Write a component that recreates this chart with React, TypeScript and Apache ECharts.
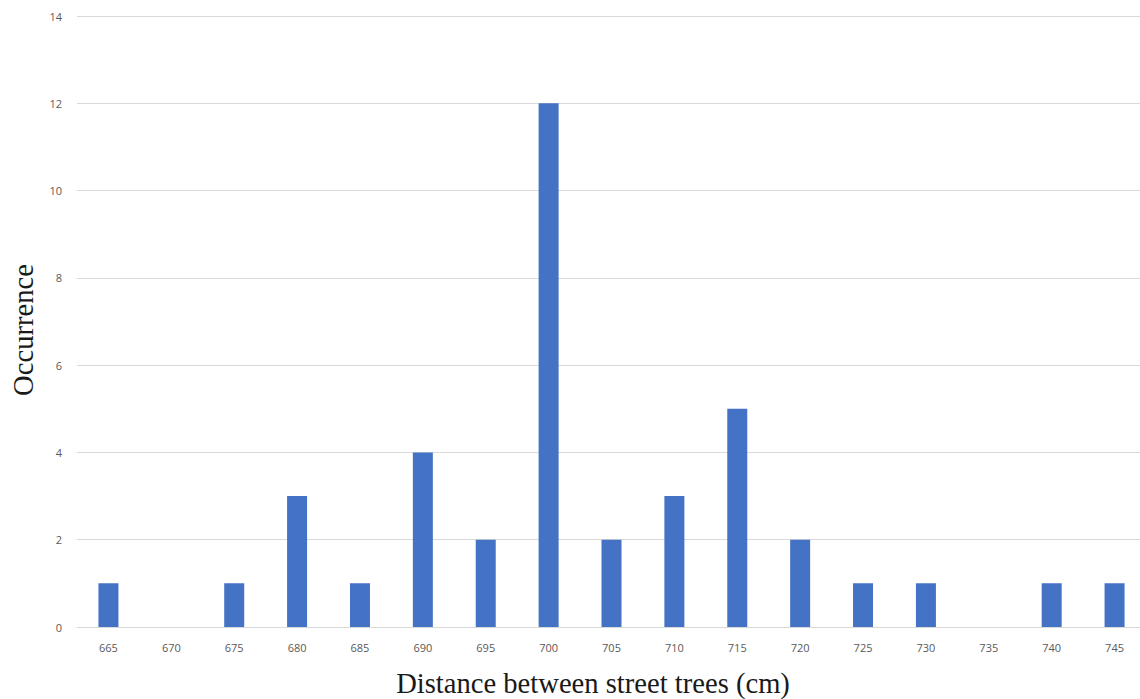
import React, { useEffect, useRef } from "react";
import * as echarts from "echarts";

const categories = ["665","670","675","680","685","690","695","700","705","710","715","720","725","730","735","740","745"];
const occurrences = [1, 0, 1, 3, 1, 4, 2, 12, 2, 3, 5, 2, 1, 1, 0, 1, 1];
const yTicks = { min: 0, max: 14, interval: 2 };
const xTitle = "Distance between street trees (cm)";
const yTitle = "Occurrence";

export default function App() {
  const ref = useRef<HTMLDivElement>(null);
  useEffect(() => {
    if (!ref.current) return;
    const chart = echarts.init(ref.current, null, { renderer: "svg" });
    chart.setOption({
      animation: false,
      backgroundColor: "#ffffff",
      grid: { left: 77, right: 0, top: 16, bottom: 72 },
      xAxis: {
        type: "category",
        data: categories,
        axisLine: { show: true, lineStyle: { color: "#d9d9d9", width: 1 } },
        axisTick: { show: false },
        axisLabel: { color: "#595959", fontSize: 11, margin: 15, fontFamily: "Open Sans" },
      },
      yAxis: {
        type: "value",
        min: yTicks.min,
        max: yTicks.max,
        interval: yTicks.interval,
        axisLine: { show: false },
        axisTick: { show: false },
        axisLabel: { color: "#595959", fontSize: 11, margin: 15, fontFamily: "Open Sans" },
        splitLine: { lineStyle: { color: "#d9d9d9", width: 1 } },
      },
      series: [
        {
          type: "bar",
          data: occurrences.map((v) => (v === 0 ? null : v)),
          barWidth: 20,
          itemStyle: { color: "#4472C4" },
        },
      ],
      graphic: [
        {
          type: "text",
          x: 593,
          y: 683,
          style: {
            text: xTitle,
            align: "center",
            verticalAlign: "middle",
            fontSize: 28.6,
            fontFamily: "Liberation Serif",
            fill: "#1a1a1a",
          },
        },
        {
          type: "text",
          x: 23,
          y: 330,
          rotation: Math.PI / 2,
          style: {
            text: yTitle,
            align: "center",
            verticalAlign: "middle",
            fontSize: 28.6,
            fontFamily: "Liberation Serif",
            fill: "#1a1a1a",
          },
        },
      ],
    });
    return () => chart.dispose();
  }, []);
  return (
    <div style={{ position: "fixed", left: 0, top: 0, width: 1140, height: 699, overflow: "hidden" }}>
      <div ref={ref} style={{ width: 1146, height: 699 }} />
    </div>
  );
}
